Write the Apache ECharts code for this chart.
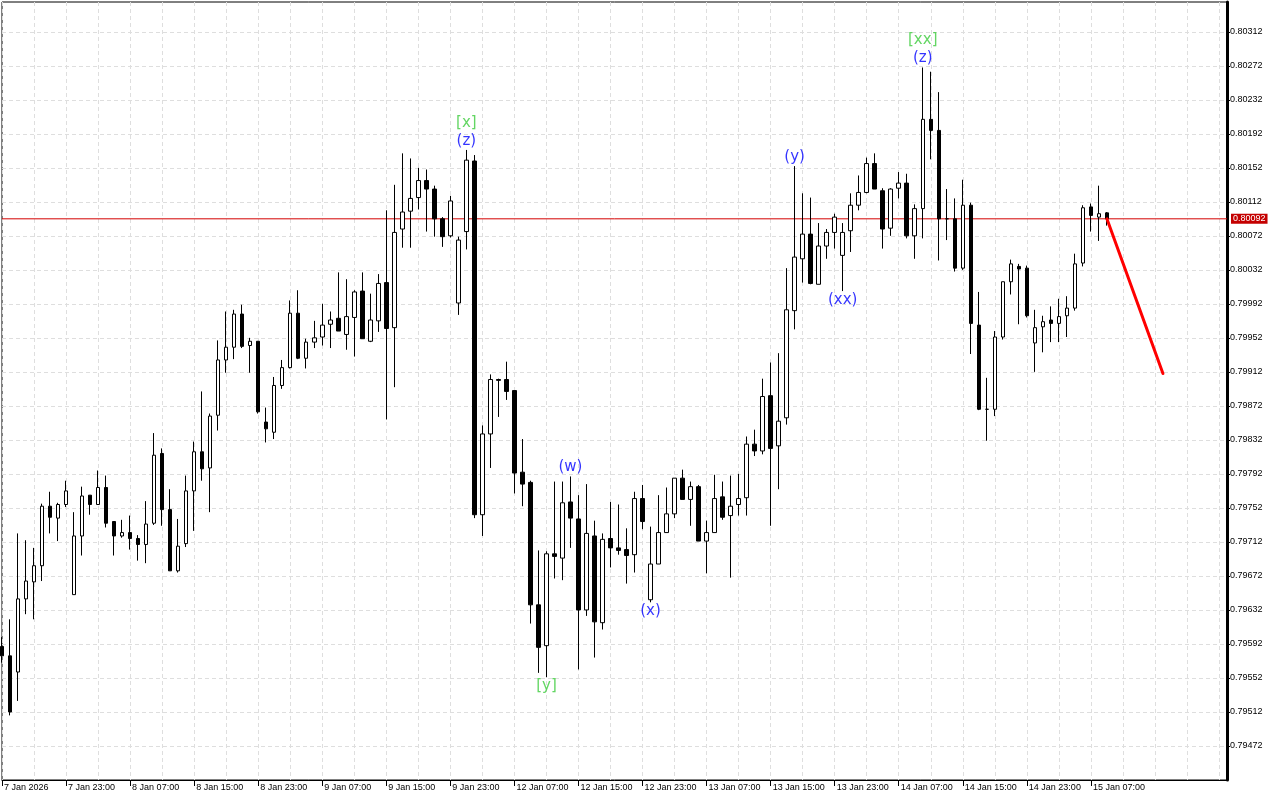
<!DOCTYPE html>
<html>
<head>
<meta charset="utf-8">
<title>H1 chart</title>
<script src="https://cdn.jsdelivr.net/npm/echarts@6/dist/echarts.min.js"></script>
<style>
  html, body { margin: 0; padding: 0; background: #fff; }
  #chart { width: 1280px; height: 800px; }
</style>
</head>
<body>
<div id="chart"></div>
<script>
// one label every 8 bars, first bar = 7 Jan 15:00
const tickLabels = ['7 Jan 2026', '7 Jan 23:00', '8 Jan 07:00', '8 Jan 15:00', '8 Jan 23:00', '9 Jan 07:00',
  '9 Jan 15:00', '9 Jan 23:00', '12 Jan 07:00', '12 Jan 15:00', '12 Jan 23:00', '13 Jan 07:00',
  '13 Jan 15:00', '13 Jan 23:00', '14 Jan 07:00', '14 Jan 15:00', '14 Jan 23:00', '15 Jan 07:00']
const priceTicks = [0.79472, 0.79512, 0.79552, 0.79592, 0.79632, 0.79672, 0.79712, 0.79752, 0.79792, 0.79832,
  0.79872, 0.79912, 0.79952, 0.79992, 0.80032, 0.80072, 0.80112, 0.80152, 0.80192, 0.80232, 0.80272, 0.80312]

const open = [
  0.79589, 0.79578, 0.79559, 0.79645, 0.79665, 0.79684, 0.79754, 0.79740, 0.79756, 0.79650,
  0.79719, 0.79767, 0.79756, 0.79776, 0.79736, 0.79719, 0.79723, 0.79716, 0.79709, 0.79734,
  0.79816, 0.79750, 0.79678, 0.79710, 0.79772, 0.79818, 0.79799, 0.79861, 0.79926, 0.79941,
  0.79980, 0.79943, 0.79948, 0.79853, 0.79841, 0.79896, 0.79917, 0.79981, 0.79928, 0.79947,
  0.79953, 0.79968, 0.79975, 0.79956, 0.79976, 0.80007, 0.79948, 0.79972, 0.80017, 0.79964,
  0.80080, 0.80101, 0.80117, 0.80137, 0.80127, 0.80092, 0.80072, 0.79993, 0.80077, 0.80160,
  0.79744, 0.79839, 0.79903, 0.79903, 0.79890, 0.79794, 0.79782, 0.79638, 0.79590, 0.79698,
  0.79693, 0.79759, 0.79739, 0.79632, 0.79719, 0.79617, 0.79716, 0.79705, 0.79703, 0.79697,
  0.79763, 0.79644, 0.79686, 0.79723, 0.79745, 0.79787, 0.79762, 0.79777, 0.79713, 0.79723,
  0.79765, 0.79743, 0.79756, 0.79764, 0.79827, 0.79819, 0.79884, 0.79825, 0.79858, 0.79984,
  0.80045, 0.80074, 0.80015, 0.80060, 0.80076, 0.80049, 0.80078, 0.80108, 0.80123, 0.80157,
  0.80125, 0.80081, 0.80128, 0.80134, 0.80072, 0.80104, 0.80209, 0.80196, 0.80092, 0.80092,
  0.80034, 0.80108, 0.79967, 0.79868, 0.79868, 0.79953, 0.80018, 0.80036, 0.80034, 0.79946,
  0.79965, 0.79973, 0.79969, 0.79978, 0.79987, 0.80040, 0.80106, 0.80094, 0.80099]
const high = [
  0.79600, 0.79621, 0.79722, 0.79714, 0.79705, 0.79757, 0.79771, 0.79758, 0.79784, 0.79747,
  0.79777, 0.79767, 0.79796, 0.79790, 0.79736, 0.79738, 0.79743, 0.79720, 0.79760, 0.79840,
  0.79822, 0.79774, 0.79739, 0.79790, 0.79830, 0.79889, 0.79863, 0.79949, 0.79983, 0.79985,
  0.79991, 0.79952, 0.79948, 0.79870, 0.79906, 0.79926, 0.79996, 0.80008, 0.79951, 0.79972,
  0.79992, 0.79983, 0.80029, 0.80021, 0.80008, 0.80029, 0.80004, 0.80027, 0.80102, 0.80132,
  0.80169, 0.80163, 0.80152, 0.80150, 0.80131, 0.80094, 0.80119, 0.80071, 0.80173, 0.80167,
  0.79849, 0.79909, 0.79904, 0.79924, 0.79890, 0.79833, 0.79784, 0.79702, 0.79701, 0.79783,
  0.79783, 0.79789, 0.79767, 0.79780, 0.79737, 0.79722, 0.79759, 0.79756, 0.79728, 0.79771,
  0.79779, 0.79730, 0.79767, 0.79776, 0.79787, 0.79797, 0.79783, 0.79779, 0.79737, 0.79791,
  0.79783, 0.79790, 0.79792, 0.79836, 0.79844, 0.79904, 0.79923, 0.79934, 0.80034, 0.80154,
  0.80122, 0.80117, 0.80087, 0.80080, 0.80098, 0.80087, 0.80122, 0.80143, 0.80164, 0.80169,
  0.80128, 0.80128, 0.80147, 0.80145, 0.80109, 0.80270, 0.80265, 0.80241, 0.80127, 0.80116,
  0.80138, 0.80111, 0.80006, 0.79905, 0.79960, 0.80018, 0.80044, 0.80039, 0.80037, 0.79985,
  0.79978, 0.79989, 0.79998, 0.80001, 0.80051, 0.80108, 0.80110, 0.80131, 0.80100]
const low = [
  0.79570, 0.79508, 0.79525, 0.79627, 0.79621, 0.79666, 0.79722, 0.79713, 0.79753, 0.79650,
  0.79696, 0.79744, 0.79756, 0.79729, 0.79696, 0.79717, 0.79703, 0.79690, 0.79687, 0.79732,
  0.79731, 0.79678, 0.79676, 0.79706, 0.79725, 0.79784, 0.79747, 0.79843, 0.79911, 0.79927,
  0.79940, 0.79911, 0.79863, 0.79829, 0.79833, 0.79892, 0.79916, 0.79927, 0.79916, 0.79940,
  0.79943, 0.79940, 0.79960, 0.79938, 0.79930, 0.79951, 0.79947, 0.79959, 0.79856, 0.79894,
  0.80058, 0.80058, 0.80103, 0.80077, 0.80071, 0.80059, 0.80070, 0.79979, 0.80056, 0.79740,
  0.79719, 0.79799, 0.79859, 0.79879, 0.79769, 0.79754, 0.79616, 0.79558, 0.79553, 0.79669,
  0.79667, 0.79705, 0.79562, 0.79625, 0.79576, 0.79609, 0.79682, 0.79697, 0.79663, 0.79676,
  0.79727, 0.79641, 0.79686, 0.79723, 0.79740, 0.79762, 0.79731, 0.79713, 0.79675, 0.79723,
  0.79738, 0.79670, 0.79743, 0.79743, 0.79813, 0.79815, 0.79731, 0.79774, 0.79850, 0.79962,
  0.80017, 0.80015, 0.80015, 0.80045, 0.80057, 0.80007, 0.80053, 0.80102, 0.80122, 0.80127,
  0.80057, 0.80072, 0.80116, 0.80069, 0.80045, 0.80069, 0.80162, 0.80043, 0.80067, 0.80030,
  0.80032, 0.79933, 0.79867, 0.79831, 0.79860, 0.79950, 0.80003, 0.79968, 0.79976, 0.79912,
  0.79935, 0.79947, 0.79947, 0.79953, 0.79984, 0.80036, 0.80077, 0.80066, 0.80084]
const close = [
  0.79578, 0.79512, 0.79645, 0.79666, 0.79684, 0.79754, 0.79741, 0.79756, 0.79772, 0.79719,
  0.79766, 0.79756, 0.79776, 0.79734, 0.79719, 0.79723, 0.79716, 0.79709, 0.79733, 0.79814,
  0.79750, 0.79678, 0.79707, 0.79772, 0.79818, 0.79798, 0.79860, 0.79926, 0.79941, 0.79980,
  0.79942, 0.79948, 0.79865, 0.79845, 0.79896, 0.79917, 0.79981, 0.79928, 0.79947, 0.79952,
  0.79967, 0.79973, 0.79960, 0.79977, 0.80006, 0.79951, 0.79973, 0.80016, 0.79963, 0.80076,
  0.80100, 0.80116, 0.80137, 0.80127, 0.80092, 0.80071, 0.80113, 0.80067, 0.80161, 0.79744,
  0.79839, 0.79903, 0.79902, 0.79889, 0.79793, 0.79780, 0.79638, 0.79588, 0.79698, 0.79695,
  0.79758, 0.79740, 0.79632, 0.79722, 0.79618, 0.79715, 0.79705, 0.79702, 0.79696, 0.79763,
  0.79736, 0.79686, 0.79723, 0.79745, 0.79787, 0.79762, 0.79777, 0.79713, 0.79723, 0.79763,
  0.79741, 0.79754, 0.79763, 0.79827, 0.79819, 0.79883, 0.79822, 0.79854, 0.79985, 0.80047,
  0.80074, 0.80016, 0.80060, 0.80076, 0.80094, 0.80076, 0.80108, 0.80123, 0.80157, 0.80127,
  0.80080, 0.80127, 0.80134, 0.80072, 0.80104, 0.80209, 0.80196, 0.80092, 0.80092, 0.80034,
  0.80108, 0.79969, 0.79868, 0.79868, 0.79953, 0.80018, 0.80039, 0.80033, 0.79978, 0.79964,
  0.79971, 0.79969, 0.79977, 0.79987, 0.80039, 0.80105, 0.80096, 0.80098, 0.80092]

const lastPrice = 0.80092
// forecast arrow: from last bar to a bar in the empty area
const arrowBars = [138, 145]
const arrowPrices = [0.80092, 0.79910]

// wave labels
const waveBars = [58, 58, 115, 115, 99, 105, 71, 81, 68]
const wavePrices = [0.80173, 0.80173, 0.80270, 0.80270, 0.80154, 0.80007, 0.79789, 0.79641, 0.79553]
const waveTexts = ['[x]', '(z)', '[xx]', '(z)', '(y)', '(xx)', '(w)', '(x)', '[y]']

const emptyBars = 15
const barCount = open.length
const categories = []
for (let i = 0; i < barCount + emptyBars; i++) categories.push(String(i))
const lastIndex = categories.length - 1

const ohlc = open.map((o, i) => [o, close[i], low[i], high[i]])

const gridColor = '#dedede'
const green = '#3ccc3c'
const blue = '#0000ff'

const myChart = echarts.init(document.getElementById('chart'))
const option = {
  animation: false,
  grid: {
    left: 2, right: 53, top: 2, bottom: 20,
    show: true, borderColor: '#000', borderWidth: 1, backgroundColor: '#fff'
  },
  xAxis: {
    type: 'category',
    data: categories,
    boundaryGap: false,
    axisLine: {show: true, lineStyle: {color: '#000', width: 1}},
    axisTick: {
      show: true, length: 6, lineStyle: {color: '#000'},
      interval: (i) => i % 8 === 0 && i < barCount
    },
    axisLabel: {
      interval: (i) => i % 8 === 0 && i < barCount,
      formatter: (v, i) => tickLabels[i / 8] || '',
      align: 'left', margin: 3, padding: [0, 0, 0, 2],
      color: '#000', fontSize: 9, fontFamily: 'Liberation Sans'
    },
    splitLine: {
      show: true, interval: (i) => i % 4 === 0,
      lineStyle: {color: gridColor, type: [4, 3], width: 1}
    }
  },
  yAxis: {
    type: 'value',
    position: 'right',
    min: 0.79432,
    max: 0.80347,
    axisLine: {show: true, lineStyle: {color: '#000', width: 3}},
    axisTick: {show: true, customValues: priceTicks, length: 3, lineStyle: {color: '#000'}},
    axisLabel: {
      customValues: priceTicks,
      formatter: (v) => v.toFixed(5),
      color: '#000', fontSize: 9, fontFamily: 'Liberation Sans', margin: 3
    },
    splitLine: {show: true, lineStyle: {color: gridColor, type: [4, 3], width: 1}}
  },
  series: [
    {
      // current price line, drawn under the candles
      type: 'line',
      data: [[0, lastPrice], [lastIndex, lastPrice]],
      symbol: 'none',
      silent: true,
      z: 2,
      lineStyle: {color: '#d40000', width: 1},
      endLabel: {
        show: true, formatter: lastPrice.toFixed(5),
        backgroundColor: '#c40000', color: '#fff', padding: [1, 2, 0, 2],
        fontSize: 9, fontFamily: 'Liberation Sans', distance: 4
      }
    },
    {
      type: 'candlestick',
      data: ohlc,
      barWidth: 4,
      z: 3,
      itemStyle: {
        color: '#fff', color0: '#000',
        borderColor: '#000', borderColor0: '#000', borderColorDoji: '#000',
        borderWidth: 1
      },
      emphasis: {disabled: true}
    },
    {
      // forecast arrow
      type: 'line',
      data: arrowBars.map((b, k) => [b, arrowPrices[k]]),
      symbol: 'none',
      silent: true,
      lineStyle: {color: '#ff0000', width: 3, cap: 'round'},
      z: 4
    },
    {
      type: 'scatter',
      symbolSize: 1,
      itemStyle: {color: 'rgba(0,0,0,0)'},
      silent: true,
      z: 5,
      data: waveTexts.map((t, k) => {
        const above = wavePrices[k] >= high[waveBars[k]]
        const isGreen = t[0] === '['
        const dy = above ? (isGreen ? -27 : -9) : 9
        return {
          value: [waveBars[k], wavePrices[k]],
          label: {
            show: true, formatter: t, position: 'inside', offset: [0, dy],
            color: isGreen ? green : blue, fontSize: 15, fontFamily: 'DejaVu Sans'
          }
        }
      })
    }
  ]
}
myChart.setOption(option)
</script>
</body>
</html>
